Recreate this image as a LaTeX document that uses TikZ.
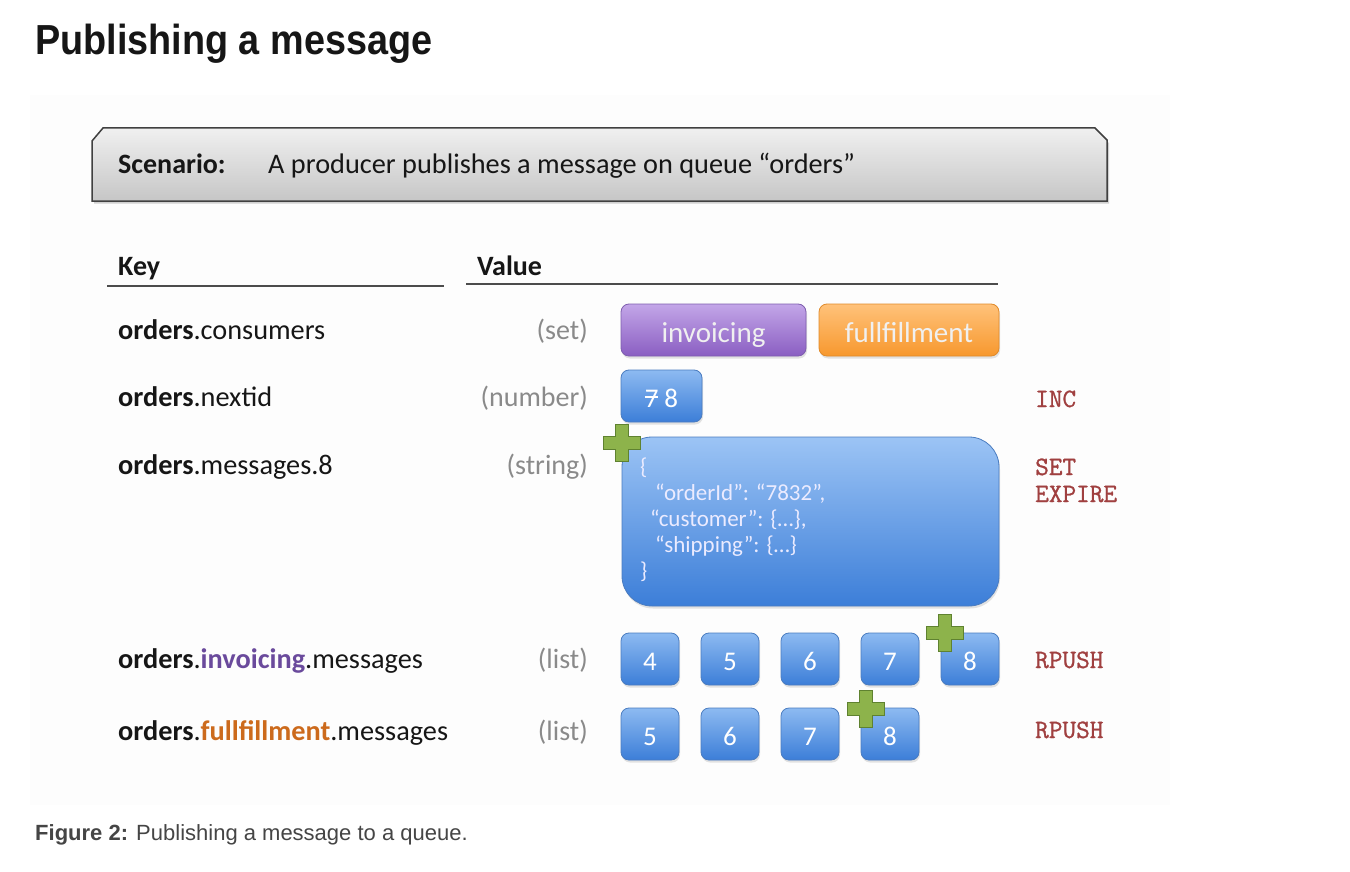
\documentclass[tikz,border=0pt]{standalone}
\usepackage{graphicx}
\usepackage{fontspec}
\setmainfont{Carlito}
\newfontfamily\titlefont{Liberation Sans}
\newfontfamily\cmdfont[FakeBold=1]{Latin Modern Mono}
\usetikzlibrary{shadows}
\definecolor{keyblack}{HTML}{161616}
\definecolor{typegray}{HTML}{8A8A8A}
\definecolor{bluetop}{HTML}{8DBAF1}
\definecolor{bluebot}{HTML}{3C7ED8}
\definecolor{bigtop}{HTML}{9CC4F5}
\definecolor{blueline}{HTML}{4A7CC0}
\definecolor{purptop}{HTML}{C3A6E8}
\definecolor{purpbot}{HTML}{8A5EC2}
\definecolor{purpline}{HTML}{7E5DAE}
\definecolor{orgtop}{HTML}{FFC27A}
\definecolor{orgbot}{HTML}{F7982E}
\definecolor{orgline}{HTML}{E08A2A}
\definecolor{cmdred}{HTML}{A04040}
\definecolor{plusgreen}{HTML}{8DB34B}
\definecolor{plusdark}{HTML}{5F8230}
\definecolor{invtxt}{HTML}{6A4A9C}
\definecolor{fultxt}{HTML}{CC6A1C}
\definecolor{captxt}{HTML}{454545}
\definecolor{scentop}{HTML}{F0F0F0}
\definecolor{scenbot}{HTML}{C6C6C6}
\tikzset{
  keytxt/.style={anchor=base west, inner sep=0pt, text=keyblack, font=\fontsize{28.3}{28}\selectfont},
  typetxt/.style={anchor=base east, inner sep=0pt, text=typegray, font=\fontsize{28}{28}\selectfont},
  cmdtxt/.style={anchor=base west, inner sep=0pt, text=cmdred, font=\cmdfont\fontsize{26.5}{27}\selectfont, align=left},
  boxshadow/.style={drop shadow={shadow xshift=1pt, shadow yshift=-2.5pt, opacity=0.22}},
  vbox/.style={draw=blueline, line width=0.8pt, rounded corners=8pt, top color=bluetop, bottom color=bluebot,
    minimum width=58pt, minimum height=52pt, inner sep=0pt, text=white,
    font=\fontsize{27}{27}\selectfont, text height=22pt, text depth=0pt, boxshadow},
  setbox/.style={line width=0.8pt, rounded corners=8pt, minimum height=52pt, inner sep=0pt,
    text=white!94!black, font=\fontsize{29}{29}\selectfont, text height=24pt, text depth=0pt, boxshadow},
  jsontxt/.style={anchor=base west, inner sep=0pt, text=white!92!blue, font=\fontsize{23}{23}\selectfont},
  pics/plus/.style={code={
    \draw[fill=plusgreen, draw=plusdark, line width=1.4pt]
      (-6.5,-18.5) -- (6.5,-18.5) -- (6.5,-6.5) -- (18.5,-6.5) -- (18.5,6.5) -- (6.5,6.5) -- (6.5,18.5) -- (-6.5,18.5) -- (-6.5,6.5) -- (-18.5,6.5) -- (-18.5,-6.5) -- (-6.5,-6.5) -- cycle;
  }},
}
\newcommand\strikesvn{\rlap{\raisebox{0.33em}{\rule{0.5em}{0.07em}}}7}
\begin{document}
\begin{tikzpicture}[x=1pt,y=-1pt]
\useasboundingbox (0,0) rectangle (1350,872);
\fill[white] (0,0) rectangle (1350,872);
\fill[black!0.7] (30,95) rectangle (1170,805);

% title
\node[anchor=base west, inner sep=0pt, text=keyblack, font=\titlefont\bfseries\fontsize{42}{42}\selectfont] (title) at (35,55) {\scalebox{0.9}[1]{Publishing a message}};

% scenario box
\fill[black!30, opacity=0.6] (94,144) -- (104,131) -- (1096,131) -- (1109,143) -- (1109,203.5) -- (94,203.5) -- cycle;
\shade[top color=scentop, bottom color=scenbot] (92,141) -- (103,128) -- (1095,128) -- (1107,140) -- (1107,201) -- (92,201) -- cycle;
\draw[line width=1.5pt, draw=black!75] (92,141) -- (103,128) -- (1095,128) -- (1107,140) -- (1107,201) -- (92,201) -- cycle;
\node[keytxt, font=\bfseries\fontsize{28}{28}\selectfont] (scen) at (118,174) {Scenario:};
\node[keytxt] (scentext) at (268,174) {A producer publishes a message on queue “orders”};

% headers
\node[keytxt, font=\bfseries\fontsize{28}{28}\selectfont] (key) at (118,275) {Key};
\node[keytxt, font=\bfseries\fontsize{28}{28}\selectfont] (value) at (477,275) {Value};
\draw[line width=1.6pt, draw=black!70] (107,286) -- (444,286);
\draw[line width=1.6pt, draw=black!70] (466,284) -- (998,284);

% keys
\node[keytxt] (k1) at (118,339) {\textbf{orders}.consumers};
\node[keytxt] (k2) at (118,406) {\textbf{orders}.nextid};
\node[keytxt] (k3) at (118,474) {\textbf{orders}.messages.8};
\node[keytxt] (k4) at (118,668) {\textbf{orders}.\textbf{\textcolor{invtxt}{invoicing}}.messages};
\node[keytxt] (k5) at (118,740) {\textbf{orders}.\textbf{\textcolor{fultxt}{fullfillment}}.messages};

% types
\node[typetxt] (t1) at (588,339) {(set)};
\node[typetxt] (t2) at (588,406) {(number)};
\node[typetxt] (t3) at (588,474) {(string)};
\node[typetxt] (t4) at (588,668) {(list)};
\node[typetxt] (t5) at (588,740) {(list)};

% set members
\node[setbox, draw=purpline, top color=purptop, bottom color=purpbot, minimum width=185pt] (inv) at (713.5,330) {invoicing};
\node[setbox, draw=orgline, top color=orgtop, bottom color=orgbot, minimum width=180pt] (ful) at (909,330) {fullfillment};

% nextid
\node[vbox, minimum width=81pt] (nid) at (661.5,396) {\strikesvn\kern0.22em 8};
\node[cmdtxt] (inc) at (1035,407) {INC};

% message string
\node[vbox, rounded corners=30pt, minimum width=377pt, minimum height=169pt, top color=bigtop] (msg) at (810.5,521.5) {};
\node[jsontxt] (j1) at (640,474) {\{};
\node[jsontxt] (j2) at (655,500) {“orderId”: “7832”,};
\node[jsontxt] (j3) at (650,526) {“customer”: \{…\},};
\node[jsontxt] (j4) at (655,552) {“shipping”: \{…\}};
\node[jsontxt] (j5) at (640,578) {\}};
\pic at (622,443) {plus};
\node[cmdtxt] (set) at (1035,502) {SET\\EXPIRE};

% invoicing list
\node[vbox] (i4) at (650,659) {4};
\node[vbox] (i5) at (730,659) {5};
\node[vbox] (i6) at (810,659) {6};
\node[vbox] (i7) at (890,659) {7};
\node[vbox] (i8) at (970,659) {8};
\pic at (945,633) {plus};
\node[cmdtxt] (rp1) at (1035,668) {RPUSH};

% fullfillment list
\node[vbox] (f5) at (650,734) {5};
\node[vbox] (f6) at (730,734) {6};
\node[vbox] (f7) at (810,734) {7};
\node[vbox] (f8) at (890,734) {8};
\pic at (866,709) {plus};
\node[cmdtxt] (rp2) at (1035,738) {RPUSH};

% caption
\node[anchor=base west, inner sep=0pt, text=captxt, font=\titlefont\fontsize{22}{22}\selectfont] (cap) at (35,840) {\textbf{Figure 2:} Publishing a message to a queue.};
\end{tikzpicture}
\end{document}
